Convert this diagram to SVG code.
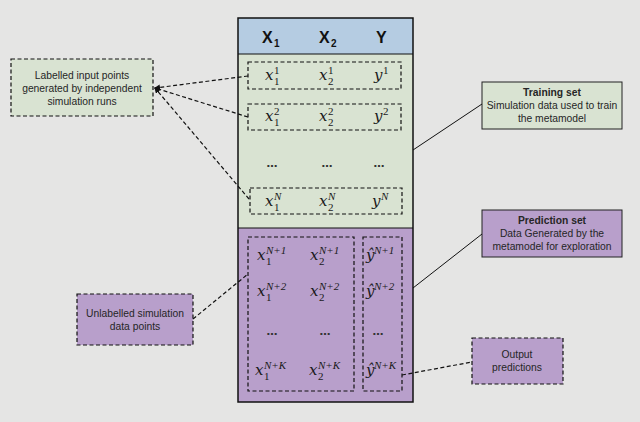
<svg xmlns="http://www.w3.org/2000/svg" width="640" height="422" viewBox="0 0 640 422">
<defs>
<style>
.bg{fill:#e5e5e4}
.dash{fill:none;stroke:#111;stroke-width:1.2;stroke-dasharray:4 2.5}
.dg{fill:#d9e3d2;stroke:#111;stroke-width:1.2;stroke-dasharray:4 2.5}
.dp{fill:#b89fcb;stroke:#111;stroke-width:1.2;stroke-dasharray:4 2.5}
.lbl{font-family:"Liberation Sans","Open Sans",sans-serif;font-size:10.3px;fill:#262626;text-anchor:middle}
.b{font-weight:bold}
.m{font-family:"DejaVu Serif","Liberation Serif",serif;font-style:italic;font-size:15px;fill:#1a1a1a}
.s{font-family:"Liberation Serif","DejaVu Serif",serif;font-size:11px;fill:#1a1a1a}
.si{font-family:"Liberation Serif","DejaVu Serif",serif;font-style:italic;font-size:11px;fill:#1a1a1a}
.h{font-family:"Liberation Sans","Open Sans",sans-serif;font-weight:bold;font-size:16px;fill:#111}
.hs{font-family:"Liberation Sans","Open Sans",sans-serif;font-weight:bold;font-size:10px;fill:#111}
.dots{font-family:"DejaVu Sans",sans-serif;font-size:11px;font-weight:bold;fill:#333;text-anchor:middle}
.conn{fill:none;stroke:#111;stroke-width:1}
.conn-d{fill:none;stroke:#111;stroke-width:1.2;stroke-dasharray:4 2.5}
</style>
<marker id="arr" viewBox="0 0 6 6" refX="5" refY="3" markerWidth="5" markerHeight="5" orient="auto">
<path d="M0,0 L6,3 L0,6 z" fill="#111"/>
</marker>
</defs>
<rect class="bg" x="0" y="0" width="640" height="422"/>

<g id="table">
<rect x="238" y="18" width="175" height="36" fill="#b5cce2"/>
<rect x="238" y="54" width="175" height="174" fill="#d9e3d2"/>
<rect x="238" y="228" width="175" height="174" fill="#b89fcb"/>
<rect x="238" y="18" width="175" height="384" fill="none" stroke="#111" stroke-width="1.5"/>
<line x1="238" y1="54" x2="413" y2="54" stroke="#111" stroke-width="1.2"/>
<line x1="238" y1="228" x2="413" y2="228" stroke="#111" stroke-width="1.2"/>
<text class="h" x="262" y="43">X</text><text class="hs" x="274" y="47">1</text>
<text class="h" x="319" y="43">X</text><text class="hs" x="331" y="47">2</text>
<text class="h" x="376" y="43">Y</text>
</g>

<g id="training-rows">
<rect class="dash" x="248" y="62" width="153" height="27"/>
<rect class="dash" x="248" y="104" width="153" height="26"/>
<rect class="dash" x="250" y="188" width="152" height="26"/>
<text class="m" x="265" y="80">x</text><text class="s" x="274" y="74">1</text><text class="s" x="274" y="85">1</text>
<text class="m" x="319" y="80">x</text><text class="s" x="328" y="74">1</text><text class="s" x="328" y="85">2</text>
<text class="m" x="374" y="80">y</text><text class="s" x="383" y="74">1</text>
<text class="m" x="265" y="121">x</text><text class="s" x="274" y="115">2</text><text class="s" x="274" y="126">1</text>
<text class="m" x="319" y="121">x</text><text class="s" x="328" y="115">2</text><text class="s" x="328" y="126">2</text>
<text class="m" x="374" y="121">y</text><text class="s" x="383" y="115">2</text>
<text class="dots" x="272" y="167">…</text>
<text class="dots" x="327" y="167">…</text>
<text class="dots" x="379" y="167">…</text>
<text class="m" x="265" y="206">x</text><text class="si" x="274" y="200">N</text><text class="s" x="274" y="211">1</text>
<text class="m" x="319" y="206">x</text><text class="si" x="328" y="200">N</text><text class="s" x="328" y="211">2</text>
<text class="m" x="372" y="206">y</text><text class="si" x="381" y="200">N</text>
</g>

<g id="prediction-rows">
<rect class="dash" x="248" y="237" width="106" height="154"/>
<rect class="dash" x="363" y="237" width="39" height="154"/>
<text class="m" x="257" y="260">x</text><text class="si" x="266" y="254">N<tspan class="s">+1</tspan></text><text class="s" x="266" y="265">1</text>
<text class="m" x="310" y="260">x</text><text class="si" x="319" y="254">N<tspan class="s">+1</tspan></text><text class="s" x="319" y="265">2</text>
<text class="m" x="366" y="260">ŷ</text><text class="si" x="374" y="254">N<tspan class="s">+1</tspan></text>
<text class="m" x="257" y="296">x</text><text class="si" x="266" y="290">N<tspan class="s">+2</tspan></text><text class="s" x="266" y="301">1</text>
<text class="m" x="310" y="296">x</text><text class="si" x="319" y="290">N<tspan class="s">+2</tspan></text><text class="s" x="319" y="301">2</text>
<text class="m" x="366" y="296">ŷ</text><text class="si" x="374" y="290">N<tspan class="s">+2</tspan></text>
<text class="dots" x="272" y="335">…</text>
<text class="dots" x="325" y="335">…</text>
<text class="dots" x="378" y="335">…</text>
<text class="m" x="255" y="375">x</text><text class="si" x="264" y="369">N<tspan class="s">+</tspan>K</text><text class="s" x="264" y="380">1</text>
<text class="m" x="309" y="375">x</text><text class="si" x="318" y="369">N<tspan class="s">+</tspan>K</text><text class="s" x="318" y="380">2</text>
<text class="m" x="366" y="375">ŷ</text><text class="si" x="374" y="369">N<tspan class="s">+</tspan>K</text>
</g>

<g id="labelled-box">
<rect class="dg" x="11" y="59" width="142" height="57"/>
<text class="lbl" x="82" y="79">Labelled input points</text>
<text class="lbl" x="82" y="92">generated by independent</text>
<text class="lbl" x="82" y="105">simulation runs</text>
</g>

<g id="training-set">
<rect x="482" y="82" width="140" height="47" fill="#d9e3d2" stroke="#222" stroke-width="1"/>
<text class="lbl b" x="552" y="96">Training set</text>
<text class="lbl" x="552" y="109">Simulation data used to train</text>
<text class="lbl" x="552" y="122">the metamodel</text>
</g>

<g id="prediction-set">
<rect x="482" y="210" width="140" height="47" fill="#b89fcb" stroke="#222" stroke-width="1"/>
<text class="lbl b" x="552" y="224">Prediction set</text>
<text class="lbl" x="552" y="237">Data Generated by the</text>
<text class="lbl" x="552" y="250">metamodel for exploration</text>
</g>

<g id="unlabelled-box">
<rect class="dp" x="77" y="294" width="116" height="51"/>
<text class="lbl" x="135" y="317">Unlabelled simulation</text>
<text class="lbl" x="135" y="330">data points</text>
</g>

<g id="output-box">
<rect class="dp" x="472" y="338" width="91" height="46"/>
<text class="lbl" x="517" y="358">Output</text>
<text class="lbl" x="517" y="371">predictions</text>
</g>

<g id="connectors">
<line class="conn-d" x1="248" y1="76" x2="155" y2="88" marker-end="url(#arr)"/>
<line class="conn-d" x1="248" y1="117" x2="155" y2="88" marker-end="url(#arr)"/>
<line class="conn-d" x1="249" y1="199" x2="155" y2="88" marker-end="url(#arr)"/>
<line class="conn" x1="413" y1="150" x2="482" y2="104"/>
<line class="conn" x1="413" y1="288" x2="482" y2="234"/>
<line class="conn-d" x1="193" y1="319" x2="248" y2="274"/>
<line class="conn-d" x1="402" y1="375" x2="472" y2="362"/>
</g>
</svg>
